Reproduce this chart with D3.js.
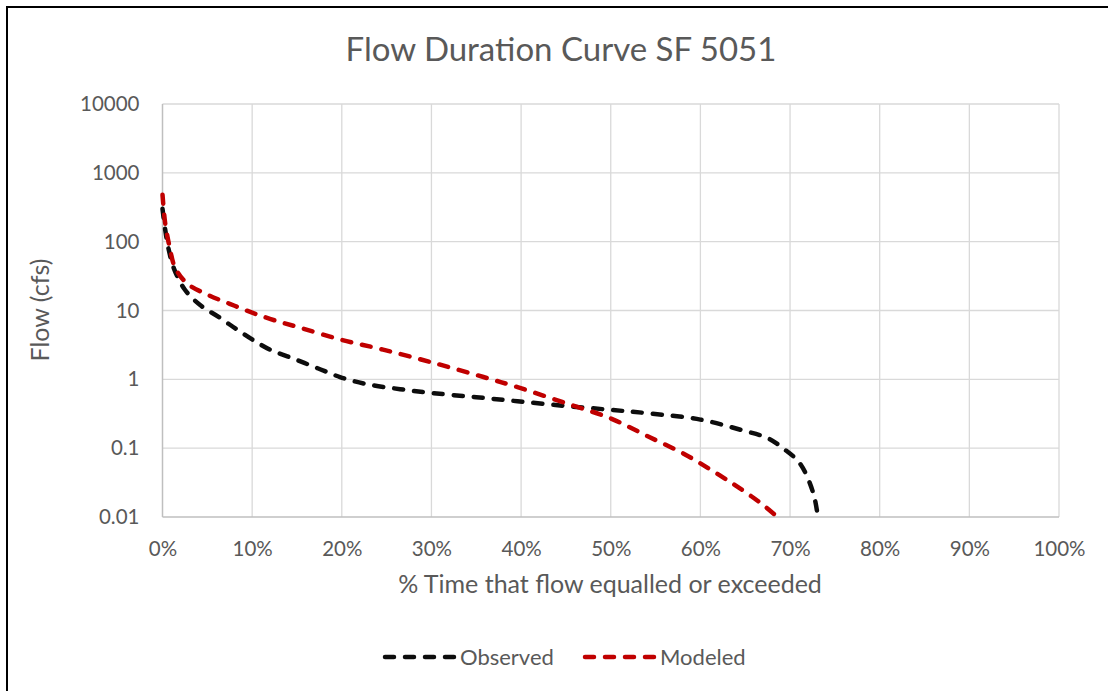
<!DOCTYPE html>
<html><head><meta charset="utf-8">
<script src="https://cdn.jsdelivr.net/npm/d3@7"></script>
<style>body{margin:0;background:#fff}svg{display:block}</style>
</head><body><svg id="c" width="1108" height="691"></svg>
<script>
const title = "Flow Duration Curve SF 5051";
const xTitle = "% Time that flow equalled or exceeded";
const yTitle = "Flow (cfs)";
const xTicks = [0,0.1,0.2,0.3,0.4,0.5,0.6,0.7,0.8,0.9,1.0];
const yTicks = [0.01,0.1,1,10,100,1000,10000];
const seriesNames = ["Observed","Modeled"];
const seriesColors = ["#0d0d0d","#c00000"];
const obsPct = [0,0.3,0.7,1.3,2.5,4.2,6.3,8.3,10,12,14.6,17.3,19.8,22.8,26.5,30.2,35,39.6,45,50,54.3,60,64.8,67.5,69.2,71.1,72.6,73.1];
const obsVal = [300,150,76,40,20,12,8.0,5.3,3.8,2.7,2.0,1.45,1.08,0.85,0.72,0.63,0.55,0.48,0.41,0.36,0.32,0.26,0.18,0.14,0.10,0.06,0.022,0.01];
const modPct = [0,0.3,0.8,1.4,2.7,5,7.5,10,12.5,15.4,19.8,24.6,30.2,35.8,39.6,45,50,54.3,58,60,63.7,66.7,68.6];
const modVal = [480,185,83,42,25,17,12.5,9.3,7.2,5.6,3.8,2.7,1.74,1.08,0.77,0.45,0.27,0.145,0.085,0.06,0.03,0.016,0.01];

const svg = d3.select("#c");
const font = "Lato, 'Open Sans', sans-serif";
const txt = "#595959";
svg.append("rect").attr("x",7).attr("y",7).attr("width",1200).attr("height",800)
  .attr("fill","#fff").attr("stroke","#000").attr("stroke-width",2);

const x = d3.scaleLinear().domain([0,1]).range([162.5,1059]);
const y = d3.scaleLog().domain([0.01,10000]).range([517,104]);

const g = svg.append("g");
g.selectAll(".hg").data(yTicks.slice(1)).join("line")
  .attr("x1",x(0)).attr("x2",x(1)).attr("y1",d=>y(d)).attr("y2",d=>y(d))
  .attr("stroke","#d9d9d9").attr("stroke-width",1.3);
g.selectAll(".vg").data(xTicks.slice(1)).join("line")
  .attr("y1",y(0.01)).attr("y2",y(10000)).attr("x1",d=>x(d)).attr("x2",d=>x(d))
  .attr("stroke","#d9d9d9").attr("stroke-width",1.3);
g.append("line").attr("x1",x(0)).attr("x2",x(1)).attr("y1",y(0.01)).attr("y2",y(0.01)).attr("stroke","#bfbfbf").attr("stroke-width",1.5);
g.append("line").attr("x1",x(0)).attr("x2",x(0)).attr("y1",y(0.01)).attr("y2",y(10000)).attr("stroke","#bfbfbf").attr("stroke-width",1.5);

const xAxis = d3.axisBottom(x).tickValues(xTicks).tickFormat(d3.format(".0%")).tickSize(0).tickPadding(24);
const xa = svg.append("g").attr("transform",`translate(0,${y(0.01)})`).call(xAxis);
const yAxis = d3.axisLeft(y).tickValues(yTicks).tickFormat(d=>String(d)).tickSize(0).tickPadding(23);
const ya = svg.append("g").attr("transform",`translate(${x(0)},0)`).call(yAxis);
[xa,ya].forEach(a=>{a.select(".domain").remove();
  a.selectAll("text").attr("font-family",font).attr("font-size",20.5).attr("fill",txt);});

svg.append("text").attr("x",561).attr("y",61).attr("text-anchor","middle")
  .attr("font-family",font).attr("font-size",33).attr("fill",txt).text(title);
svg.append("text").attr("x",610).attr("y",593).attr("text-anchor","middle")
  .attr("font-family",font).attr("font-size",25).attr("fill",txt).text(xTitle);
svg.append("text").attr("transform","translate(49,310) rotate(-90)").attr("text-anchor","middle")
  .attr("font-family",font).attr("font-size",25).attr("fill",txt).text(yTitle);

const line = d3.line().x(d=>x(d[0]/100)).y(d=>y(d[1])).curve(d3.curveCatmullRom.alpha(0.5));
const series = [d3.zip(obsPct,obsVal), d3.zip(modPct,modVal)];
series.forEach((s,i)=>{
  svg.append("path").datum(s).attr("d",line).attr("fill","none")
    .attr("stroke",seriesColors[i]).attr("stroke-width",4.5)
    .attr("stroke-dasharray","9,11").attr("stroke-linecap","round");
});

const legX = [385,585];
seriesNames.forEach((n,i)=>{
  svg.append("line").attr("x1",legX[i]).attr("x2",legX[i]+71).attr("y1",657).attr("y2",657)
    .attr("stroke",seriesColors[i]).attr("stroke-width",4.5).attr("stroke-dasharray","9,11").attr("stroke-linecap","round");
  svg.append("text").attr("x",legX[i]+75).attr("y",665).attr("font-family",font).attr("font-size",22)
    .attr("fill",txt).text(n);
});
</script></body></html>
